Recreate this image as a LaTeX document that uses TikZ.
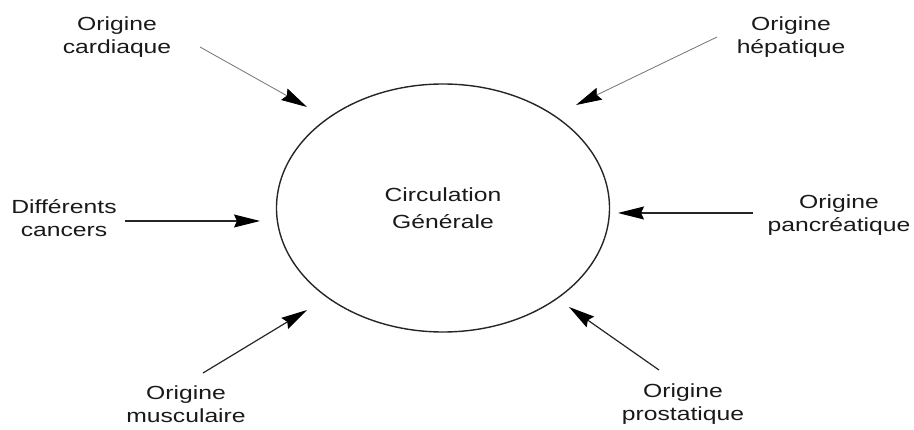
\documentclass[tikz,border=0pt]{standalone}
\usepackage{fontspec}
\setmainfont{Liberation Sans}[FakeStretch=1.3]
\usetikzlibrary{shapes.geometric,arrows.meta}
\begin{document}
\begin{tikzpicture}[x=1pt,y=-1pt,
  lab/.style={align=center, font=\fontsize{19}{23}\selectfont, text=black!90, inner sep=0pt},
  arr/.style={-{Stealth[length=26pt,width=13pt,inset=3pt,color=black]}, line width=1.2pt, draw=black!85},
  thinarr/.style={arr, line width=0.8pt, draw=black!55},
  circ/.style={draw=black!85, line width=1.4pt, ellipse, minimum width=333pt, minimum height=248pt, align=center, font=\fontsize{19}{27}\selectfont, text=black!90, inner sep=0pt}]
\useasboundingbox (0,0) rectangle (914,430);
\node[circ] (cg) at (443,208) {Circulation\\Générale};
\node[lab] (card) at (117,37) {Origine\\cardiaque};
\node[lab] (hep) at (791,37) {Origine\\hépatique};
\node[lab] (canc) at (64,218) {Différents\\cancers};
\node[lab] (panc) at (839,215) {Origine\\pancréatique};
\node[lab] (musc) at (186,404) {Origine\\musculaire};
\node[lab] (pros) at (683,404) {Origine\\prostatique};
\coordinate (s1) at (200,47);  \coordinate (t1) at (307,107);
\coordinate (s2) at (717,37);  \coordinate (t2) at (576,105);
\coordinate (s3) at (125,221); \coordinate (t3) at (260,221);
\coordinate (s4) at (753,213); \coordinate (t4) at (618,213);
\coordinate (s5) at (203,373); \coordinate (t5) at (307,310);
\coordinate (s6) at (659,370); \coordinate (t6) at (569,307);
\draw[thinarr] (s1) -- (t1);
\draw[thinarr] (s2) -- (t2);
\draw[arr] (s3) -- (t3);
\draw[arr] (s4) -- (t4);
\draw[arr] (s5) -- (t5);
\draw[arr] (s6) -- (t6);
\end{tikzpicture}
\end{document}
